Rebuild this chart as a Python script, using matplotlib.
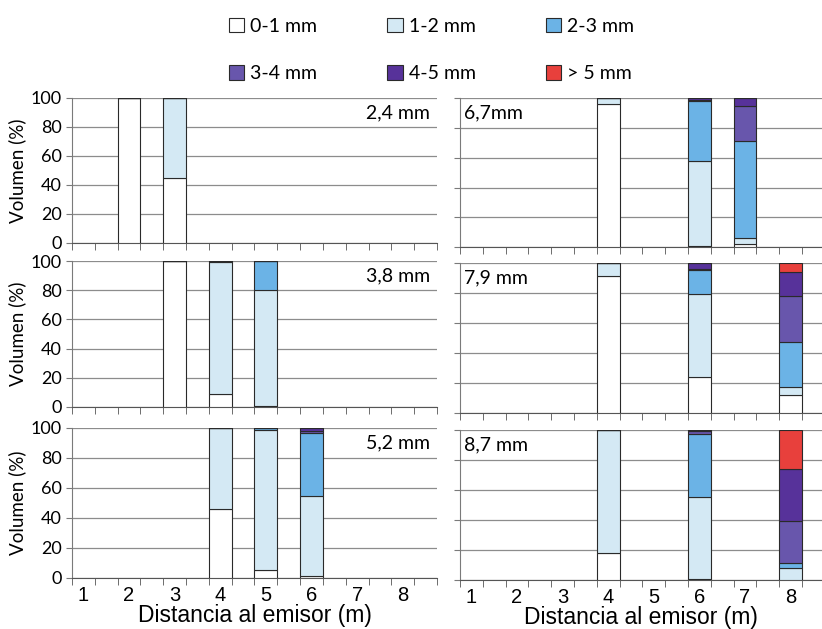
import matplotlib.pyplot as plt
from matplotlib.ticker import MultipleLocator, FixedLocator
import numpy as np

# size classes and colours
classes = ['0-1 mm', '1-2 mm', '2-3 mm', '3-4 mm', '4-5 mm', '> 5 mm']
colors = ['#ffffff', '#d4e9f4', '#6bb3e6', '#6856ac', '#57329a', '#e8403c']

distances = [1, 2, 3, 4, 5, 6, 7, 8]

# one list of bars per panel: distance, then % volume per class
p24_dist = [2, 3]
p24_vals = [[100, 0, 0, 0, 0, 0],
            [45, 55, 0, 0, 0, 0]]

p38_dist = [3, 4, 5]
p38_vals = [[100, 0, 0, 0, 0, 0],
            [9, 90.5, 0.5, 0, 0, 0],
            [0.5, 79.5, 20, 0, 0, 0]]

p52_dist = [4, 5, 6]
p52_vals = [[46, 54, 0, 0, 0, 0],
            [5, 93.5, 1.5, 0, 0, 0],
            [1, 53.5, 42, 1.8, 1.7, 0]]

p67_dist = [4, 6, 7]
p67_vals = [[96, 4, 0, 0, 0, 0],
            [1, 57, 40, 0.5, 1.5, 0],
            [2, 4, 65, 24, 5, 0]]

p79_dist = [4, 6, 8]
p79_vals = [[91, 9, 0, 0, 0, 0],
            [24, 55, 16, 1, 4, 0],
            [12, 5, 30, 31, 16, 6]]

p87_dist = [4, 6, 8]
p87_vals = [[18, 82, 0, 0, 0, 0],
            [1, 54, 42, 2.5, 0.5, 0],
            [0, 8, 3, 28, 35, 26]]

panels = [
    ('2,4 mm', p24_dist, p24_vals),
    ('3,8 mm', p38_dist, p38_vals),
    ('5,2 mm', p52_dist, p52_vals),
    ('6,7mm', p67_dist, p67_vals),
    ('7,9 mm', p79_dist, p79_vals),
    ('8,7 mm', p87_dist, p87_vals),
]

# axes rectangles in figure fraction (left col then right col)
rects = [
    [0.0876, 0.6137, 0.444, 0.2305],
    [0.0876, 0.3530, 0.444, 0.2320],
    [0.0876, 0.0811, 0.444, 0.2385],
    [0.5596, 0.6070, 0.4404, 0.2370],
    [0.5596, 0.3434, 0.4404, 0.2385],
    [0.5596, 0.0779, 0.4404, 0.2385],
]

calibri = ['Lato', 'DejaVu Sans']
arial = ['Liberation Sans', 'DejaVu Sans']

fig = plt.figure(figsize=(8.22, 6.29), dpi=100)

handles = None
for idx, (title, dist, vals) in enumerate(panels):
    ax = fig.add_axes(rects[idx])
    left_col = idx < 3
    bottom_row = idx in (2, 5)

    vals = np.array(vals, dtype=float)
    bottoms = np.zeros(len(dist))
    bars = []
    for k in range(len(classes)):
        b = ax.bar(dist, vals[:, k], width=0.5, bottom=bottoms,
                   color=colors[k], edgecolor='#2a2a2a', linewidth=0.8,
                   label=classes[k], zorder=3)
        bars.append(b)
        bottoms = bottoms + vals[:, k]
    if handles is None:
        handles = bars

    ax.set_ylim(0, 100)
    if left_col:
        ax.set_xlim(0.75, 8.75)
    else:
        ax.set_xlim(0.75, 8.69)

    ax.yaxis.set_major_locator(MultipleLocator(20))
    ax.grid(axis='y', color='#8c8c8c', linewidth=0.9, zorder=0)
    ax.set_axisbelow(True)

    for s in ['top', 'right']:
        ax.spines[s].set_visible(False)
    ax.spines['left'].set_color('#7a7a7a')
    ax.spines['bottom'].set_color('#555555')

    # tick marks between the distance slots
    ax.xaxis.set_major_locator(FixedLocator(distances))
    ax.xaxis.set_minor_locator(FixedLocator(np.arange(0.75, 8.8, 0.5)))
    ax.tick_params(axis='x', which='major', length=0)
    ax.tick_params(axis='x', which='minor', length=5, color='#555555',
                   direction='out')
    ax.tick_params(axis='y', length=4, color='#7a7a7a')

    if bottom_row:
        ax.set_xticklabels([str(d) for d in distances], fontsize=14.5,
                           family=arial)
        ax.tick_params(axis='x', which='major', pad=6)
        ax.set_xlabel('Distancia al emisor (m)', fontsize=16.5, family=arial,
                      labelpad=-1)
    else:
        ax.set_xticklabels([])

    if left_col:
        ax.set_yticks([0, 20, 40, 60, 80, 100])
        ax.set_yticklabels(['0', '20', '40', '60', '80', '100'],
                           fontsize=13, family=calibri)
        ax.set_ylabel('Volumen (%)', fontsize=13.5, family=calibri,
                      labelpad=3)
        ax.text(0.98, 0.90, title, transform=ax.transAxes, ha='right',
                va='center', fontsize=14, family=calibri)
    else:
        ax.set_yticklabels([])
        ax.text(0.01, 0.90, title, transform=ax.transAxes, ha='left',
                va='center', fontsize=14, family=calibri)

# legend: 2 rows x 3 columns, filled column-wise
order = [0, 3, 1, 4, 2, 5]
fig.legend([handles[i] for i in order], [classes[i] for i in order],
           ncol=3, loc='upper left', bbox_to_anchor=(0.257, 1.0),
           frameon=False, prop={'family': calibri, 'size': 14},
           handlelength=0.8, handleheight=0.8, handletextpad=0.3,
           columnspacing=3.6, labelspacing=1.55)

plt.savefig('out.png', dpi=100)
